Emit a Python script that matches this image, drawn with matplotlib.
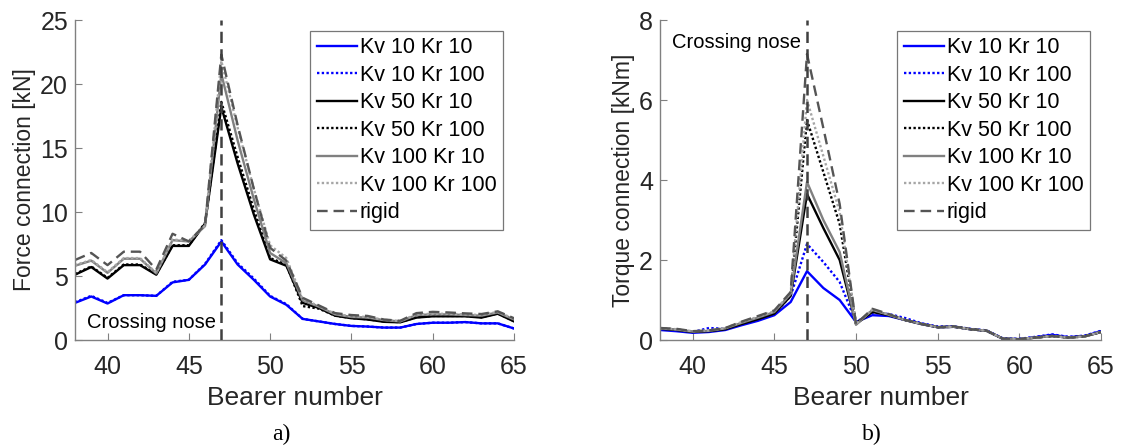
import matplotlib
matplotlib.use("Agg")
import matplotlib.pyplot as plt
import numpy as np

plt.rcParams['font.family'] = ['Liberation Sans', 'DejaVu Sans']

bearers = list(range(38, 66))

labels = ["Kv 10 Kr 10", "Kv 10 Kr 100", "Kv 50 Kr 10", "Kv 50 Kr 100",
          "Kv 100 Kr 10", "Kv 100 Kr 100", "rigid"]

# Force in the connection [kN]
force_kv10_kr10 = [2.9, 3.4, 2.85, 3.5, 3.5, 3.45, 4.5, 4.7, 5.9, 7.7, 5.9, 4.7, 3.4, 2.75,
                   1.65, 1.45, 1.25, 1.1, 1.05, 0.97, 0.97, 1.25, 1.35, 1.35, 1.4, 1.3, 1.3, 0.9]
force_kv10_kr100 = [2.95, 3.45, 2.9, 3.5, 3.5, 3.45, 4.55, 4.7, 5.95, 7.8, 6.0, 4.8, 3.45, 2.8,
                    1.65, 1.45, 1.25, 1.1, 1.05, 0.97, 0.97, 1.25, 1.35, 1.35, 1.4, 1.3, 1.3, 0.9]
force_kv50_kr10 = [5.1, 5.7, 4.8, 5.85, 5.85, 5.1, 7.35, 7.35, 9.1, 18.2, 13.8, 9.8, 6.3, 5.8,
                   2.9, 2.5, 1.9, 1.7, 1.6, 1.42, 1.38, 1.75, 1.85, 1.85, 1.85, 1.75, 2.05, 1.45]
force_kv50_kr100 = [5.15, 5.75, 4.85, 5.9, 5.9, 5.15, 7.4, 7.4, 9.15, 18.6, 14.3, 10.2, 6.4, 5.9,
                    2.65, 2.45, 1.9, 1.72, 1.62, 1.45, 1.4, 1.78, 1.88, 1.88, 1.88, 1.78, 2.08, 1.48]
force_kv100_kr10 = [5.8, 6.2, 5.25, 6.35, 6.35, 5.2, 7.8, 7.7, 8.9, 20.8, 15.6, 11.0, 6.8, 6.0,
                    3.1, 2.6, 2.0, 1.8, 1.75, 1.55, 1.45, 1.95, 2.0, 2.0, 1.95, 1.9, 2.15, 1.6]
force_kv100_kr100 = [5.85, 6.25, 5.3, 6.4, 6.4, 5.25, 7.85, 7.75, 8.95, 21.8, 16.6, 11.8, 7.4, 6.4,
                     3.2, 2.65, 2.05, 1.85, 1.8, 1.58, 1.48, 2.0, 2.05, 2.05, 2.0, 1.95, 2.2, 1.65]
force_rigid = [6.25, 6.8, 5.85, 6.9, 6.9, 5.5, 8.3, 7.7, 9.0, 22.3, 16.8, 11.8, 7.2, 6.2,
               3.3, 2.7, 2.1, 1.95, 1.88, 1.6, 1.5, 2.1, 2.2, 2.15, 2.08, 2.03, 2.24, 1.7]

# Torque in the connection [kNm]
torque_kv10_kr10 = [0.25, 0.22, 0.18, 0.2, 0.25, 0.37, 0.48, 0.62, 0.95, 1.72, 1.3, 1.0, 0.45, 0.62,
                    0.6, 0.5, 0.4, 0.32, 0.33, 0.27, 0.23, 0.03, 0.02, 0.07, 0.13, 0.07, 0.1, 0.22]
torque_kv10_kr100 = [0.27, 0.24, 0.2, 0.3, 0.28, 0.4, 0.52, 0.66, 1.1, 2.4, 1.95, 1.45, 0.45, 0.68,
                     0.65, 0.55, 0.42, 0.34, 0.34, 0.28, 0.24, 0.04, 0.03, 0.08, 0.14, 0.08, 0.11, 0.23]
torque_kv50_kr10 = [0.28, 0.25, 0.2, 0.22, 0.27, 0.4, 0.52, 0.66, 1.1, 3.65, 2.8, 2.0, 0.4, 0.7,
                    0.62, 0.5, 0.4, 0.32, 0.33, 0.27, 0.23, 0.03, 0.02, 0.06, 0.1, 0.06, 0.09, 0.2]
torque_kv50_kr100 = [0.29, 0.26, 0.21, 0.23, 0.28, 0.42, 0.55, 0.69, 1.15, 5.5, 4.2, 2.9, 0.42, 0.72,
                     0.63, 0.5, 0.4, 0.32, 0.33, 0.27, 0.23, 0.03, 0.02, 0.06, 0.1, 0.06, 0.09, 0.2]
torque_kv100_kr10 = [0.29, 0.26, 0.21, 0.23, 0.29, 0.43, 0.56, 0.7, 1.15, 3.95, 3.0, 2.2, 0.38, 0.75,
                     0.63, 0.5, 0.4, 0.32, 0.33, 0.27, 0.23, 0.03, 0.02, 0.06, 0.1, 0.06, 0.09, 0.2]
torque_kv100_kr100 = [0.3, 0.27, 0.22, 0.24, 0.3, 0.45, 0.58, 0.72, 1.18, 6.0, 4.6, 3.2, 0.4, 0.76,
                      0.64, 0.5, 0.4, 0.32, 0.33, 0.27, 0.23, 0.03, 0.02, 0.06, 0.1, 0.06, 0.09, 0.2]
torque_rigid = [0.3, 0.28, 0.22, 0.24, 0.3, 0.46, 0.6, 0.74, 1.2, 7.15, 5.3, 3.4, 0.4, 0.78,
                0.65, 0.5, 0.4, 0.32, 0.34, 0.27, 0.23, 0.03, 0.02, 0.06, 0.1, 0.06, 0.09, 0.2]

crossing_nose = 47

styles = [
    dict(color='#0000ff', dashes=()),
    dict(color='#0000ff', dashes=(1, 1)),
    dict(color='#000000', dashes=()),
    dict(color='#000000', dashes=(1, 1)),
    dict(color='#808080', dashes=()),
    dict(color='#a6a6a6', dashes=(1, 1)),
    dict(color='#555555', dashes=(4.5, 2.5)),
]

W, H = 1124, 446
fig = plt.figure(figsize=(W / 100, H / 100), dpi=100)


def panel(rect, series, ylim, yticks, ylabel, text_y, tag, tag_x):
    ax = fig.add_axes([rect[0] / W, 1 - rect[3] / H, (rect[2] - rect[0]) / W, (rect[3] - rect[1]) / H])
    for vals, lab, st in zip(series, labels, styles):
        line, = ax.plot(bearers, vals, color=st['color'], lw=1.7, label=lab)
        if st['dashes']:
            line.set_dashes(st['dashes'])
    ax.axvline(crossing_nose, color='#404040', lw=1.8, dashes=(4.5, 2.5), zorder=5)
    ax.set_xlim(38, 65)
    ax.set_ylim(*ylim)
    ax.set_xticks([40, 45, 50, 55, 60, 65])
    ax.set_yticks(yticks)
    for s in ('top', 'right'):
        ax.spines[s].set_visible(False)
    for s in ('left', 'bottom'):
        ax.spines[s].set_color('#808080')
        ax.spines[s].set_linewidth(1.0)
    ax.tick_params(direction='in', length=5, width=0.8, colors='#808080',
                   labelcolor='#262626', labelsize=18)
    ax.tick_params(axis='x', pad=11)
    ax.tick_params(axis='y', pad=5)
    ax.set_xlabel('Bearer number', fontsize=19, color='#262626', labelpad=5)
    ax.set_ylabel(ylabel, fontsize=16.5, color='#262626', labelpad=3)
    ax.text(crossing_nose - 0.35, text_y, 'Crossing nose', ha='right', va='center',
            fontsize=14.5, color='#000000')
    leg = ax.legend(loc='upper right', bbox_to_anchor=((rect[2] - 11) / W, 1 - 31 / H),
                    bbox_transform=fig.transFigure, fontsize=15.5, frameon=True, fancybox=False,
                    handlelength=1.85, handletextpad=0.15, labelspacing=0.3, borderpad=0.3,
                    borderaxespad=0)
    leg.get_frame().set_edgecolor('#555555')
    leg.get_frame().set_linewidth(0.9)
    for t in leg.get_texts():
        t.set_color('#000000')
    fig.text(tag_x / W, 1 - 434 / H, tag, ha='center', va='center',
             fontsize=17, family=['Liberation Serif', 'DejaVu Serif'])
    return ax


panel((75, 20, 514, 340),
      [force_kv10_kr10, force_kv10_kr100, force_kv50_kr10, force_kv50_kr100,
       force_kv100_kr10, force_kv100_kr100, force_rigid],
      (0, 25), [0, 5, 10, 15, 20, 25], 'Force connection [kN]', 1.4, 'a)', 281)

panel((660, 20, 1101, 340),
      [torque_kv10_kr10, torque_kv10_kr100, torque_kv50_kr10, torque_kv50_kr100,
       torque_kv100_kr10, torque_kv100_kr100, torque_rigid],
      (0, 8), [0, 2, 4, 6, 8], 'Torque connection [kNm]', 7.45, 'b)', 872)

fig.savefig('out.png', dpi=100)
